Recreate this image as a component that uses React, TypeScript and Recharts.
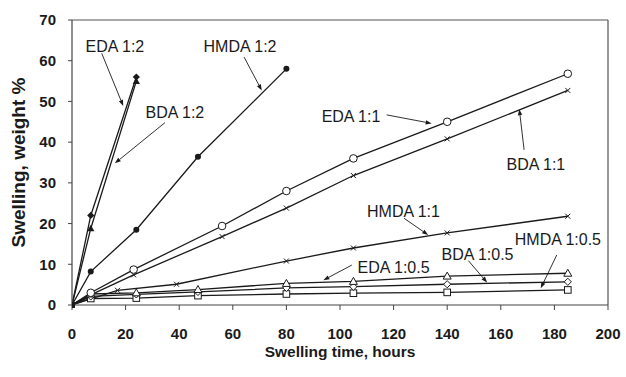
import React from "react";
import { LineChart, Line, XAxis, YAxis, ReferenceLine, ReferenceDot } from "recharts";

const edaHalf = [
  { x: 0, y: 0 }, { x: 7, y: 2.7 }, { x: 24, y: 3.0 }, { x: 47, y: 3.8 },
  { x: 80, y: 5.3 }, { x: 105, y: 5.8 }, { x: 140, y: 7.1 }, { x: 185, y: 7.8 },
];
const bdaHalf = [
  { x: 0, y: 0 }, { x: 7, y: 2.1 }, { x: 24, y: 2.6 }, { x: 47, y: 3.2 },
  { x: 80, y: 4.2 }, { x: 105, y: 4.5 }, { x: 140, y: 5.1 }, { x: 185, y: 5.7 },
];
const hmdaHalf = [
  { x: 0, y: 0 }, { x: 7, y: 1.6 }, { x: 24, y: 1.7 }, { x: 47, y: 2.3 },
  { x: 80, y: 2.7 }, { x: 105, y: 2.9 }, { x: 140, y: 3.1 }, { x: 185, y: 3.7 },
];
const edaOne = [
  { x: 0, y: 0 }, { x: 7, y: 3.0 }, { x: 23, y: 8.7 }, { x: 56, y: 19.4 },
  { x: 80, y: 28.0 }, { x: 105, y: 36.0 }, { x: 140, y: 45.0 }, { x: 185, y: 56.8 },
];
const bdaOne = [
  { x: 0, y: 0 }, { x: 7, y: 2.5 }, { x: 23, y: 7.4 }, { x: 56, y: 16.8 },
  { x: 80, y: 23.8 }, { x: 105, y: 31.8 }, { x: 140, y: 40.8 }, { x: 185, y: 52.7 },
];
const hmdaOne = [
  { x: 0, y: 0 }, { x: 17, y: 3.6 }, { x: 39, y: 5.1 }, { x: 80, y: 10.8 },
  { x: 105, y: 14.0 }, { x: 140, y: 17.7 }, { x: 185, y: 21.8 },
];
const edaTwo = [{ x: 0, y: 0 }, { x: 7, y: 22 }, { x: 24, y: 56 }];
const bdaTwo = [{ x: 0, y: 0 }, { x: 7, y: 18.8 }, { x: 24, y: 55 }];
const hmdaTwo = [
  { x: 0, y: 0 }, { x: 7, y: 8.2 }, { x: 24, y: 18.5 }, { x: 47, y: 36.4 }, { x: 80, y: 58 },
];

const xTicks = [0, 20, 40, 60, 80, 100, 120, 140, 160, 180, 200];
const yTicks = [0, 10, 20, 30, 40, 50, 60, 70];

const labels = [
  { text: "EDA 1:2", x: 16.0, y: 63.5, x1: 11.1, y1: 61.8, x2: 19.1, y2: 48.9 },
  { text: "BDA 1:2", x: 38.4, y: 47.4, x1: 34.7, y1: 44.8, x2: 16.0, y2: 34.8 },
  { text: "HMDA 1:2", x: 62.7, y: 63.5, x1: 64.2, y1: 60.9, x2: 70.8, y2: 52.7 },
  { text: "EDA 1:1", x: 104.1, y: 46.3, x1: 117.4, y1: 46.7, x2: 134.2, y2: 44.6 },
  { text: "BDA 1:1", x: 173.1, y: 34.6, x1: 168.7, y1: 38.1, x2: 166.9, y2: 48.1 },
  { text: "HMDA 1:1", x: 123.7, y: 22.9, x1: 123.9, y1: 21.3, x2: 132.9, y2: 17.2 },
  { text: "HMDA 1:0.5", x: 181.3, y: 16.2, x1: 180.9, y1: 12.3, x2: 174.9, y2: 4.1 },
  { text: "BDA 1:0.5", x: 151.3, y: 12.5, x1: 147.9, y1: 10.9, x2: 154.9, y2: 5.5 },
  { text: "EDA 1:0.5", x: 120.0, y: 9.2, x1: 104.4, y1: 9.8, x2: 93.8, y2: 6.1 },
];

const FONT = "'Liberation Sans', Arial, sans-serif";
const INK = "#1a1a1a";

type Kind = "diamondF" | "triF" | "circleF" | "circleO" | "cross" | "triO" | "diamondO" | "squareO";

function makeDot(kind: Kind) {
  return (p: any) => {
    const { cx, cy, index, payload } = p;
    const k = `d-${kind}-${index}`;
    if (cx == null || cy == null) return <g key={k} />;
    if (payload && payload.x === 0) {
      return <rect key={k} x={cx - 3} y={cy - 3} width={6} height={6} fill={INK} />;
    }
    const s = 3.6;
    switch (kind) {
      case "diamondF":
        return <polygon key={k} points={`${cx},${cy - s} ${cx + s},${cy} ${cx},${cy + s} ${cx - s},${cy}`} fill={INK} />;
      case "triF":
        return <polygon key={k} points={`${cx},${cy - s} ${cx + s},${cy + s * 0.8} ${cx - s},${cy + s * 0.8}`} fill={INK} />;
      case "circleF":
        return <circle key={k} cx={cx} cy={cy} r={3} fill={INK} />;
      case "circleO":
        return <circle key={k} cx={cx} cy={cy} r={3.8} fill="#fff" stroke={INK} strokeWidth={1} />;
      case "cross":
        return (
          <g key={k} stroke={INK} strokeWidth={1}>
            <line x1={cx - 2.5} y1={cy - 2.5} x2={cx + 2.5} y2={cy + 2.5} />
            <line x1={cx - 2.5} y1={cy + 2.5} x2={cx + 2.5} y2={cy - 2.5} />
          </g>
        );
      case "triO":
        return <polygon key={k} points={`${cx},${cy - 4} ${cx + 4},${cy + 3} ${cx - 4},${cy + 3}`} fill="#fff" stroke={INK} strokeWidth={1} />;
      case "diamondO":
        return <polygon key={k} points={`${cx},${cy - 3.6} ${cx + 3.6},${cy} ${cx},${cy + 3.6} ${cx - 3.6},${cy}`} fill="#fff" stroke={INK} strokeWidth={1} />;
      case "squareO":
        return <rect key={k} x={cx - 3.3} y={cy - 3.3} width={6.6} height={6.6} fill="#fff" stroke={INK} strokeWidth={1} />;
    }
    return <g key={k} />;
  };
}

const arrowShape = (p: any) => {
  const { x1, y1, x2, y2 } = p;
  const dx = x2 - x1;
  const dy = y2 - y1;
  const len = Math.sqrt(dx * dx + dy * dy) || 1;
  const ux = dx / len;
  const uy = dy / len;
  const hl = 6;
  const hw = 2.2;
  const bx = x2 - ux * hl;
  const by = y2 - uy * hl;
  return (
    <g>
      <line x1={x1} y1={y1} x2={bx} y2={by} stroke={INK} strokeWidth={0.9} />
      <polygon
        points={`${x2},${y2} ${bx - uy * hw},${by + ux * hw} ${bx + uy * hw},${by - ux * hw}`}
        fill={INK}
      />
    </g>
  );
};

const series: { data: { x: number; y: number }[]; kind: Kind; name: string }[] = [
  { data: hmdaHalf, kind: "squareO", name: "HMDA 1:0.5" },
  { data: bdaHalf, kind: "diamondO", name: "BDA 1:0.5" },
  { data: edaHalf, kind: "triO", name: "EDA 1:0.5" },
  { data: hmdaOne, kind: "cross", name: "HMDA 1:1" },
  { data: bdaOne, kind: "cross", name: "BDA 1:1" },
  { data: edaOne, kind: "circleO", name: "EDA 1:1" },
  { data: hmdaTwo, kind: "circleF", name: "HMDA 1:2" },
  { data: bdaTwo, kind: "triF", name: "BDA 1:2" },
  { data: edaTwo, kind: "diamondF", name: "EDA 1:2" },
];

export default function App() {
  return (
    <div style={{ position: "absolute", left: 0, top: 0, width: 626, height: 377, background: "#fff" }}>
      <LineChart
        width={626}
        height={377}
        margin={{ top: 20, right: 18, left: 0, bottom: 22 }}
        style={{ fontFamily: FONT }}
      >
        <XAxis
          dataKey="x"
          type="number"
          domain={[0, 200]}
          ticks={xTicks}
          allowDataOverflow
          height={50}
          tickSize={5}
          tickMargin={18}
          stroke="#444"
          axisLine={{ stroke: "#444", strokeWidth: 1.2 }}
          tick={{ fill: INK, fontSize: 15, fontWeight: "bold", fontFamily: FONT }}
          label={{
            value: "Swelling time, hours",
            position: "insideBottom",
            offset: -2,
            style: { fill: INK, fontSize: 15.5, fontWeight: "bold", fontFamily: FONT },
          }}
        />
        <YAxis
          type="number"
          domain={[0, 70]}
          ticks={yTicks}
          width={72}
          tickSize={4}
          tickMargin={12}
          stroke="#444"
          axisLine={{ stroke: "#444", strokeWidth: 1.2 }}
          tick={{ fill: INK, fontSize: 15, fontWeight: "bold", fontFamily: FONT }}
          label={{
            value: "Swelling, weight %",
            angle: -90,
            position: "insideLeft",
            offset: 18,
            style: { textAnchor: "middle", fill: INK, fontSize: 19, fontWeight: "bold", fontFamily: FONT },
          }}
        />
        <ReferenceLine y={70} stroke="#555" strokeWidth={1.2} />
        <ReferenceLine x={200} stroke="#555" strokeWidth={1.2} />
        {series.map((s) => (
          <Line
            key={s.name}
            data={s.data}
            dataKey="y"
            name={s.name}
            type="linear"
            stroke={INK}
            strokeWidth={1.3}
            dot={makeDot(s.kind)}
            activeDot={false}
            isAnimationActive={false}
          />
        ))}
        {labels.map((l) => (
          <ReferenceLine
            key={"a-" + l.text}
            segment={[{ x: l.x1, y: l.y1 }, { x: l.x2, y: l.y2 }]}
            shape={arrowShape}
            ifOverflow="visible"
          />
        ))}
        {labels.map((l) => (
          <ReferenceDot
            key={"t-" + l.text}
            x={l.x}
            y={l.y}
            r={0}
            ifOverflow="visible"
            shape={(p: any) => (
              <text
                x={p.cx}
                y={p.cy}
                textAnchor="middle"
                dominantBaseline="central"
                fontSize={16}
                fontFamily={FONT}
                fill={INK}
              >
                {l.text}
              </text>
            )}
          />
        ))}
      </LineChart>
    </div>
  );
}
